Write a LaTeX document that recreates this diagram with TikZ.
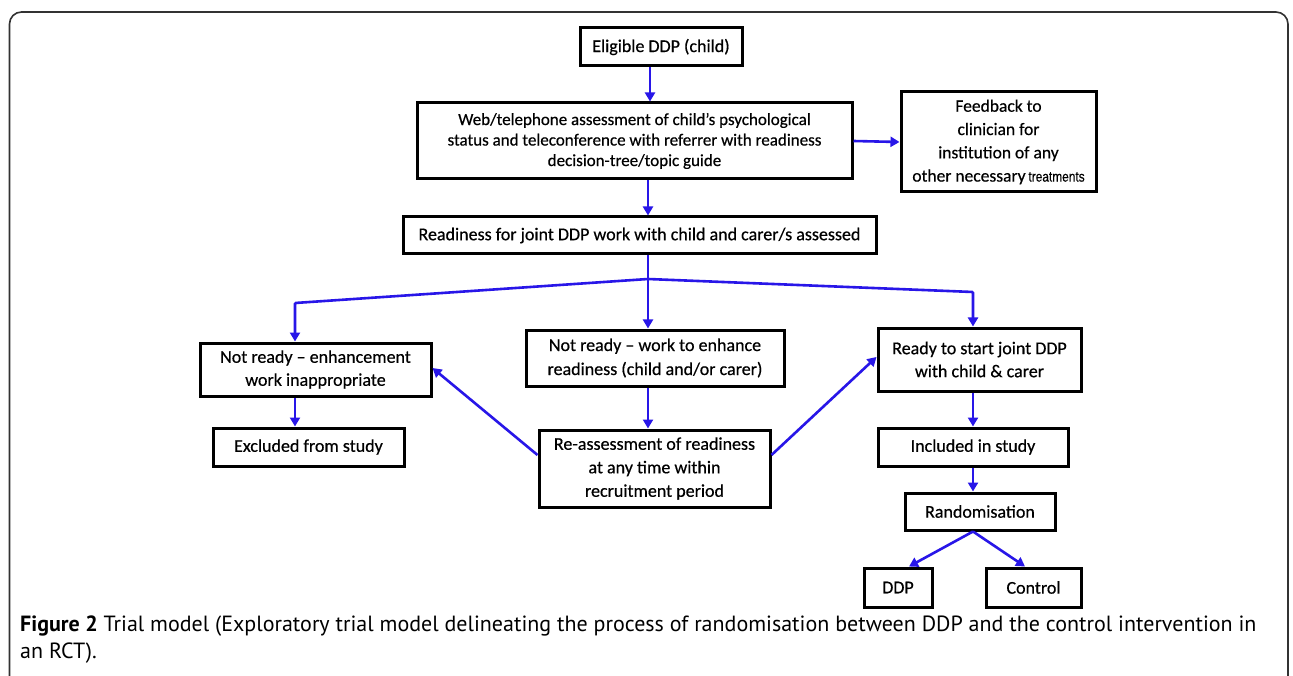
\documentclass[tikz,border=0pt]{standalone}
\usepackage{fontspec}
\setmainfont{Carlito}[FakeBold=0.5]
\newfontfamily\capfont{PT Sans}
\newfontfamily\narrowfont[FakeStretch=0.82,FakeBold=0.5]{Liberation Sans}
\usetikzlibrary{arrows.meta,calc}
\definecolor{arrowblue}{RGB}{40,22,232}
\definecolor{framegray}{RGB}{50,50,50}
\tikzset{
  box/.style={draw=black, line width=3pt, align=center, inner sep=0pt,
    font=\fontsize{18}{20.5}\selectfont, text=black},
  conn/.style={draw=arrowblue, line width=2.6pt, -{Triangle[length=9pt,width=10pt]}},
}
\begin{document}
\begin{tikzpicture}[x=1pt,y=-1pt]
\useasboundingbox (0,0) rectangle (1293,676);
\fill[white] (0,0) rectangle (1293,676);
\draw[framegray, line width=1.6pt, rounded corners=12pt] (9.5,690) -- (9.5,12) -- (1288,12) -- (1288,690);

\node[box, minimum width=162pt, minimum height=38pt] (elig) at (661,47) {Eligible DDP (child)};
\node[box, minimum width=435pt, minimum height=76pt, font=\fontsize{17}{20.5}\selectfont] (web) at (634.5,141)
  {Web/telephone assessment of child’s psychological\\ status and teleconference with referrer with readiness\\ decision-tree/topic guide};
\node[box, minimum width=195pt, minimum height=100pt, font=\fontsize{17.5}{23.3}\selectfont] (fb) at (998.5,142)
  {Feedback to\\ clinician for\\ institution of any\\ other necessary\,{\narrowfont\fontsize{14.5}{23.3}\selectfont treatments}};
\node[box, minimum width=473pt, minimum height=37pt] (rd) at (639.5,235.5)
  {Readiness for joint DDP work with child and carer/s assessed};
\node[box, minimum width=231pt, minimum height=53pt, font=\fontsize{18}{23}\selectfont] (nre) at (315.5,369.5)
  {Not ready – enhancement\\ work inappropriate};
\node[box, minimum width=258pt, minimum height=56pt, font=\fontsize{18}{24}\selectfont] (nrw) at (655,358)
  {Not ready – work to enhance\\ readiness (child and/or carer)};
\node[box, minimum width=203pt, minimum height=63pt, font=\fontsize{18}{23}\selectfont] (rdy) at (979.5,359.5)
  {Ready to start joint DDP\\ with child \& carer};
\node[box, minimum width=191pt, minimum height=38pt] (excl) at (308.5,447) {Excluded from study};
\node[box, minimum width=231pt, minimum height=77pt, font=\fontsize{18}{23.5}\selectfont] (reas) at (654.5,468.5)
  {Re-assessment of readiness\\ at any time within\\ recruitment period};
\node[box, minimum width=190pt, minimum height=38pt] (incl) at (973,447) {Included in study};
\node[box, minimum width=150pt, minimum height=37pt] (rand) at (980,511.5) {Randomisation};
\node[box, minimum width=68pt, minimum height=39pt] (ddp) at (898,587.5) {DDP};
\node[box, minimum width=95pt, minimum height=39pt] (ctrl) at (1033.5,587.5) {Control};

\coordinate (c1) at (650,0);
\coordinate (br) at (648,279);
\coordinate (cl) at (295,303);
\coordinate (cr) at (973,292);

\draw[conn] (elig.south -| c1) -- (web.north -| c1);
\draw[conn] (web.south -| br) -- (rd.north -| br);
\draw[conn] (web.east) -- (fb.west);
\draw[conn] (rd.south -| br) -- (nrw.north -| br);
\draw[conn, rounded corners=1pt] (br) -- (cl) -- (nre.north -| cl);
\draw[conn, rounded corners=1pt] (br) -- (cr) -- (rdy.north -| cr);
\draw[conn] (nre.south -| cl) -- (excl.north -| cl);
\draw[conn] (nrw.south -| br) -- (reas.north -| br);
\draw[conn] ($(reas.west)+(0,-13.5)$) -- ($(nre.east)+(0,-1.5)$);
\draw[conn] ($(reas.east)+(0,-13.5)$) -- ($(rdy.west)+(0,-2.5)$);
\draw[conn] (rdy.south -| cr) -- (incl.north -| cr);
\draw[conn] (incl.south -| cr) -- (rand.north -| cr);
\draw[conn] (rand.south -| cr) -- ($(ddp.north)+(11,0)$);
\draw[conn] (rand.south -| cr) -- ($(ctrl.north)+(-8.5,0)$);

\node[anchor=west, font=\capfont\fontsize{22}{27}\selectfont, align=left, inner sep=0pt, text=black] (cap) at (20,639.5)
  {{\bfseries Figure 2} Trial model (Exploratory trial model delineating the process of randomisation between DDP and the control intervention in\\an RCT).};
\end{tikzpicture}
\end{document}
